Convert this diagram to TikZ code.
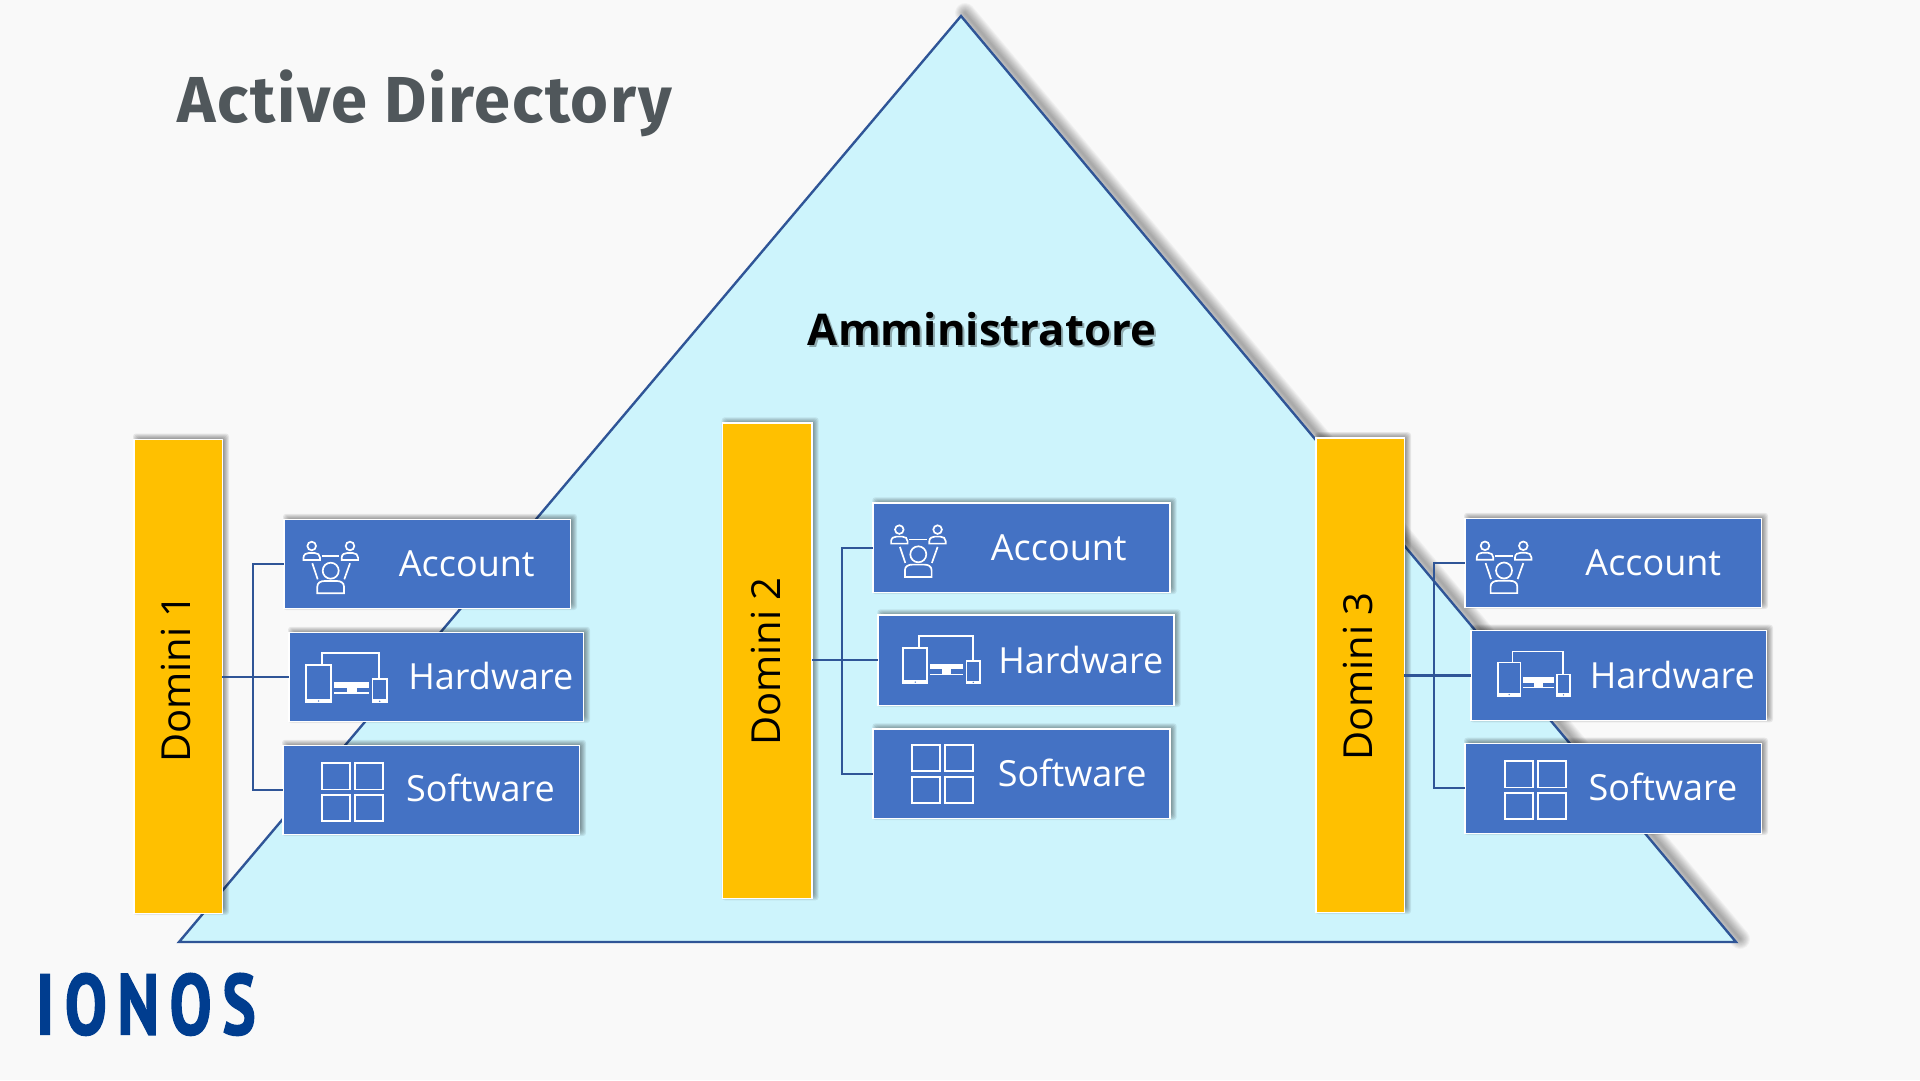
\documentclass[tikz,border=0pt]{standalone}
\usepackage{fontspec}
\setmainfont{Open Sans}
\newfontfamily\titlefont[LetterSpace=2.6]{Fira Sans}
\newfontfamily\logofont[LetterSpace=12.5,FakeStretch=0.73,BoldFeatures={FakeBold=1.5}]{PT Sans}
\definecolor{pagebg}{HTML}{F9F9F9}
\definecolor{roofblue}{HTML}{CDF4FC}
\definecolor{lineblue}{HTML}{2F5597}
\definecolor{boxblue}{HTML}{4472C4}
\definecolor{domyellow}{HTML}{FFC000}
\definecolor{titlegrey}{HTML}{50575B}
\definecolor{logoblue}{HTML}{003D8F}
\tikzset{
  x=1pt,y=-1pt,
  base box/.style={draw=white,line width=1.5pt,inner sep=0pt,outer sep=0pt},
  domainbox/.style={base box,fill=domyellow},
  itembox/.style={base box,fill=boxblue},
  itemlabel/.style={anchor=base,text=white,inner sep=0pt,font=\fontsize{36}{40}\selectfont},
  domlabel/.style={anchor=base west,rotate=90,text=black,inner sep=0pt,font=\fontsize{40}{46}\selectfont},
  wire/.style={draw=lineblue,line width=2.2pt,line join=miter},
  iconline/.style={draw=white,line width=1.7pt,fill=none},
}
% soft shadow followed by the box node
\newcommand\boxnode[6]{%
  \foreach \i in {0,...,7}{%
    \fill[black,opacity=0.075,rounded corners=3pt]
      ({#3+3+4-\i},{#4-2+4-\i}) rectangle ({#5+3-4+\i},{#6-2-4+\i});
  }%
  \node[#2,minimum width={#5-#3-1.5},minimum height={#6-#4-1.5}] (#1)
    at ({(#3+#5)/2},{(#4+#6)/2}) {};
}
\newcommand\iconAccount[2]{%
  \begin{scope}[shift={(#1,#2)},iconline]
    \draw (-19,-24.7) circle[radius=4.3pt];
    \draw (19.3,-24.7) circle[radius=4.3pt];
    \draw (0,0) circle[radius=8pt];
    \draw (-27.2,-10.7) -- (-27.2,-13) .. controls (-27.2,-16.5) and (-24,-17.7) .. (-22,-17.7) -- (-16,-17.7) .. controls (-13,-17.7) and (-10.7,-16) .. (-10.7,-13) -- (-10.7,-10.7) -- cycle;
    \draw (11,-10.7) -- (11,-13) .. controls (11,-16.5) and (14,-17.7) .. (16.5,-17.7) -- (22,-17.7) .. controls (25,-17.7) and (27.4,-16) .. (27.4,-13) -- (27.4,-10.7) -- cycle;
    \draw (-9,-14.7) -- (8.6,-14.7);
    \draw (-18.4,-7.4) -- (-13,8.6);
    \draw (19.3,-7.4) -- (13.6,8.6);
    \draw (-13.4,22.6) -- (-13.4,16) .. controls (-13.4,12) and (-10,10.3) .. (-6,10.3) -- (6,10.3) .. controls (10,10.3) and (13.3,12) .. (13.3,16) -- (13.3,22.6) -- cycle;
  \end{scope}}
\newcommand\iconHardware[3]{%
  \begin{scope}[shift={(#1,#2)},scale=#3]
    \fill[white] (0,-39.3) rectangle (27.3,0);
    \fill[boxblue] (2,-37.6) rectangle (25.3,-4.6);
    \fill[boxblue] (13.65,-2.3) circle[radius=0.8pt];
    \draw[iconline] (17.3,-39.3) -- (17.3,-50.6) -- (74.3,-50.6) -- (74.3,-25.3);
    \fill[white] (66.7,-25.3) rectangle (82.7,0);
    \fill[boxblue] (68.3,-23.8) rectangle (81.1,-4);
    \fill[boxblue] (74.7,-2) circle[radius=0.8pt];
    \fill[white] (29,-21.6) rectangle (64.3,-15.6);
    \fill[white] (41.6,-15.6) rectangle (51.6,-11.3);
    \fill[white] (29,-11.3) rectangle (64.3,-9.8);
  \end{scope}}
\newcommand\iconSoftware[2]{%
  \begin{scope}[shift={(#1,#2)},iconline]
    \draw (0,0) rectangle (28.3,26.5);
    \draw (33.3,0) rectangle (61.3,26.5);
    \draw (0,32) rectangle (28.3,58);
    \draw (33.3,32) rectangle (61.3,58);
  \end{scope}}
\begin{document}
\begin{tikzpicture}
\useasboundingbox (0,0) rectangle (1920,1080);
\fill[pagebg] (0,0) rectangle (1920,1080);

% roof
\coordinate (apex) at (961,16);
\coordinate (leftc) at (179,942);
\coordinate (rightc) at (1736,942);
\foreach \w in {2,4,...,20}{
  \draw[black,opacity=0.035,line width=\w pt,line cap=round] ([shift={(4,-3)}]apex) -- ([shift={(4,-3)}]rightc);
}
\draw[fill=roofblue,draw=lineblue,line width=2.4pt,line join=miter] (apex) -- (rightc) -- (leftc) -- cycle;

% title
\node[anchor=base west,inner sep=0pt,text=titlegrey,font=\titlefont\bfseries\fontsize{65}{70}\selectfont] (title) at (177.5,122) {Active Directory};
\node[anchor=base,inner sep=0pt,text=black,opacity=0.3,font=\bfseries\fontsize{43.7}{48}\selectfont] (adminshadow) at (984,347) {Amministratore};
\node[anchor=base,inner sep=0pt,text=black,font=\bfseries\fontsize{43.7}{48}\selectfont] (admin) at (982,345) {Amministratore};
\node[anchor=base west,inner sep=0pt,text=logoblue,font=\logofont\bfseries\fontsize{86}{90}\selectfont] (logo) at (36,1034.5) {IONOS};

% domain 1
\boxnode{d1}{domainbox}{133}{438.5}{223}{914}
\boxnode{a1}{itembox}{283}{518.8}{571}{609}
\boxnode{h1}{itembox}{288}{631.8}{584}{722}
\boxnode{s1}{itembox}{282}{744.8}{580}{835}
% domain 2
\boxnode{d2}{domainbox}{721.7}{422.3}{812.7}{899.3}
\boxnode{a2}{itembox}{872.3}{502.3}{1170.7}{593}
\boxnode{h2}{itembox}{877.3}{614.3}{1174.7}{706}
\boxnode{s2}{itembox}{872.3}{728.3}{1170.7}{819}
% domain 3
\boxnode{d3}{domainbox}{1315}{437.2}{1405}{913}
\boxnode{a3}{itembox}{1464}{517.8}{1762}{608}
\boxnode{h3}{itembox}{1470}{629.7}{1767}{721.4}
\boxnode{s3}{itembox}{1464}{742.7}{1762}{834}

% connectors
\coordinate (b1) at (253,677);
\coordinate (b2) at (842.3,660);
\coordinate (b3) at (1434,675);
\foreach \n in {1,2,3}{
  \draw[wire] (d\n.east |- h\n.west) -- (h\n.west);
  \draw[wire] (a\n.west) -- (b\n |- a\n.west) -- (b\n |- s\n.west) -- (s\n.west);
}

% domain labels
\node[domlabel] (dl1) at (190.7,763) {Domini 1};
\node[domlabel] (dl2) at (780,746) {Domini 2};
\node[domlabel] (dl3) at (1372,761) {Domini 3};

% item labels
\node[itemlabel] (at1) at (466.8,576.2) {Account};
\node[itemlabel] (ht1) at (490.8,689) {Hardware};
\node[itemlabel] (st1) at (480.5,801.5) {Software};
\node[itemlabel] (at2) at (1058.8,560) {Account};
\node[itemlabel] (ht2) at (1080.8,673) {Hardware};
\node[itemlabel] (st2) at (1072.2,786) {Software};
\node[itemlabel] (at3) at (1653.3,575) {Account};
\node[itemlabel] (ht3) at (1672.3,688) {Hardware};
\node[itemlabel] (st3) at (1663,800) {Software};

% icons
\iconAccount{330.7}{570.7}
\iconAccount{918.3}{554.3}
\iconAccount{1504}{570.5}
\iconHardware{305}{703.3}{1}
\iconHardware{902.3}{684.3}{0.95}
\iconHardware{1497}{696.6}{0.89}
\iconSoftware{322}{763}
\iconSoftware{912}{744.7}
\iconSoftware{1505}{761}
\end{tikzpicture}
\end{document}
